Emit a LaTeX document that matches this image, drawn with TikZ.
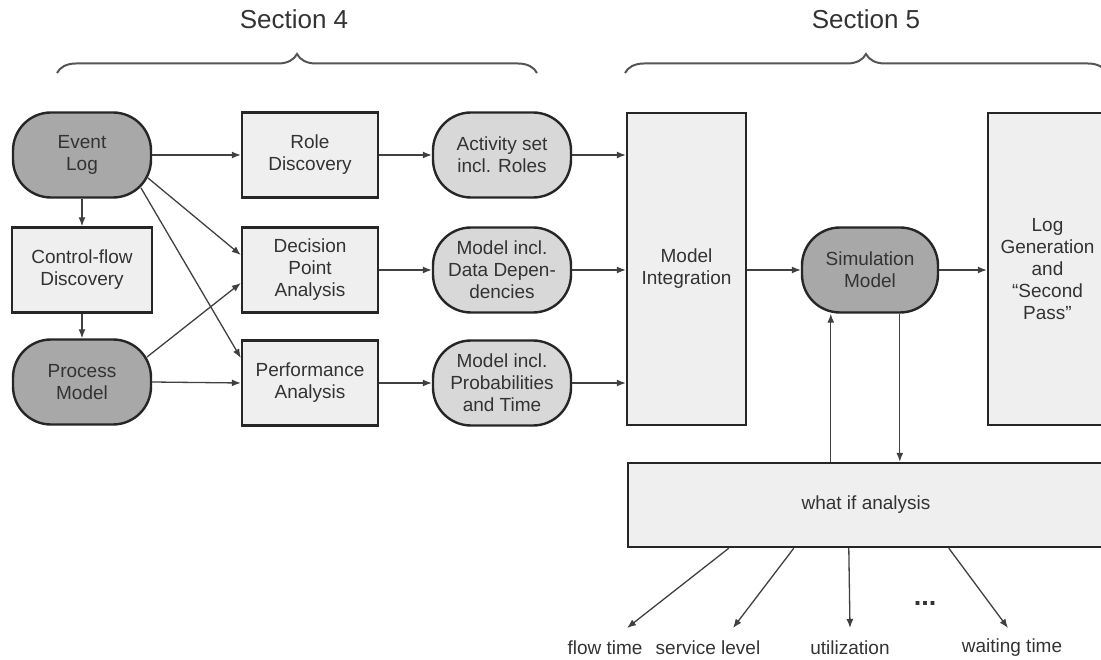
\documentclass[tikz,border=0pt]{standalone}
\usepackage{fontspec}
\setmainfont{Liberation Sans}
\usetikzlibrary{arrows.meta,calc,decorations.pathreplacing}
\definecolor{ink}{HTML}{333333}
\definecolor{edge}{HTML}{262626}
\definecolor{boxfill}{HTML}{EFEFEF}
\definecolor{darkfill}{HTML}{A8A8A8}
\definecolor{lightfill}{HTML}{D8D8D8}
\definecolor{wire}{HTML}{404040}
\definecolor{bracecol}{HTML}{555555}

\begin{document}
\begin{tikzpicture}[x=1pt,y=-1pt,
  lbl/.style={font=\fontsize{19}{22}\selectfont, text=ink, align=center},
  proc/.style={lbl, rectangle, draw=edge, line width=2.4pt, fill=boxfill,
    minimum width=136pt, minimum height=85pt, inner sep=0pt},
  data/.style={lbl, rectangle, rounded corners=38pt, draw=edge, line width=2.4pt,
    minimum width=138pt, minimum height=85pt, inner sep=0pt},
  datadark/.style={data, fill=darkfill},
  datalight/.style={data, fill=lightfill},
  tall/.style={proc, minimum width=119pt, minimum height=312pt},
  flow/.style={draw=wire, line width=1.3pt, -{Latex[length=9pt,width=7pt]}},
  sec/.style={font=\fontsize{26}{29}\selectfont, text=ink},
  secbrace/.style={draw=bracecol, line width=2pt, decorate,
    decoration={brace, amplitude=19pt}},
  measure/.style={lbl, inner sep=0pt},
]
\useasboundingbox (0,0) rectangle (1101,660);

% section headings with braces
\node[sec] (s4) at (294,19) {Section 4};
\node[sec] (s5) at (866,19) {Section 5};
\draw[secbrace] (57,73) -- (537,73);
\draw[secbrace] (625,73) -- (1107,73);

% left column
\node[datadark] (el) at (82,155) {Event\\Log};
\node[proc, minimum width=140pt] (cf) at (82,270) {Control-flow\\Discovery};
\node[datadark] (pm) at (82,382) {Process\\Model};

% analysis steps
\node[proc] (rd) at (310,155) {Role\\Discovery};
\node[proc] (dp) at (310,270) {Decision\\Point\\Analysis};
\node[proc] (pa) at (310,383) {Performance\\Analysis};

% intermediate models
\node[datalight] (as) at (502,155) {Activity set\\incl. Roles};
\node[datalight] (md) at (502,270) {Model incl.\\Data Depen-\\dencies};
\node[datalight] (mp) at (502,383) {Model incl.\\Probabilities\\and Time};

% section 5
\node[tall] (mi) at (686.5,269) {Model\\Integration};
\node[datadark, minimum width=136pt] (sm) at (870,270) {Simulation\\Model};
\node[tall] (lg) at (1047.5,269) {Log\\Generation\\and\\“Second\\Pass”};
\node[proc, minimum width=476pt, minimum height=84pt] (wi) at (866,505) {what if analysis};

% performance measures
\node[measure] (ft) at (605,648) {flow time};
\node[measure] (sl) at (708,648) {service level};
\node[measure] (ut) at (850,648) {utilization};
\node[measure, font=\bfseries\fontsize{27}{30}\selectfont] (dots) at (925,603) {...};
\node[measure] (wt) at (1012,648) {waiting time};

% section 4 connectors
\draw[flow] (el.east) -- (rd.west);
\draw[flow] (el.south) -- (cf.north);
\draw[flow] (cf.south) -- (pm.north);
\draw[flow] ($(el.center)+(66,23)$) -- ($(dp.west)+(0,-15)$);
\draw[flow] ($(el.center)+(59,33)$) -- ($(pa.west)+(0,-25)$);
\draw[flow] ($(pm.center)+(65,-25)$) -- ($(dp.west)+(0,13)$);
\draw[flow] (pm.east) -- (pa.west);
\draw[flow] (rd.east) -- (as.west);
\draw[flow] (dp.east) -- (md.west);
\draw[flow] (pa.east) -- (mp.west);

% into model integration
\draw[flow] (as.east) -- (as.east -| mi.west);
\draw[flow] (md.east) -- (md.east -| mi.west);
\draw[flow] (mp.east) -- (mp.east -| mi.west);
\draw[flow] (sm.west -| mi.east) -- (sm.west);
\draw[flow] (sm.east) -- (sm.east -| lg.west);

% simulation loop
\coordinate (upfoot) at ($(wi.north west)+(204,0)$);
\coordinate (downfoot) at ($(wi.north west)+(273,0)$);
\draw[flow] (upfoot) -- (upfoot |- sm.south);
\draw[flow] (downfoot |- sm.south) -- (downfoot);

% outcome arrows
\coordinate (ftend) at (627,628);
\coordinate (slend) at (733,628);
\coordinate (utend) at (850,628);
\coordinate (wtend) at (1008,628);
\draw[flow] ($(wi.south west)+(102,0)$) -- (ftend);
\draw[flow] ($(wi.south west)+(167,0)$) -- (slend);
\draw[flow] ($(wi.south west)+(222,0)$) -- (utend);
\draw[flow] ($(wi.south west)+(322,0)$) -- (wtend);
\end{tikzpicture}
\end{document}
